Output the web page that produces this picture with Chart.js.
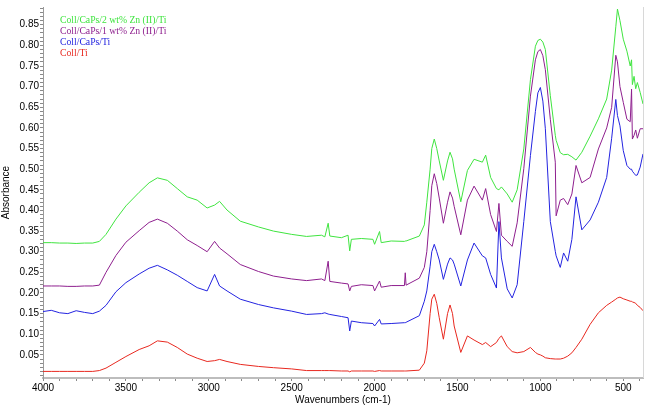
<!DOCTYPE html>
<html>
<head>
<meta charset="utf-8">
<script src="https://cdn.jsdelivr.net/npm/chart.js@4.4.0/dist/chart.umd.min.js"></script>
<style>
  html, body { margin: 0; padding: 0; background: #fff; }
  #wrap { width: 649px; height: 406px; position: relative; }
</style>
</head>
<body>
<div id="wrap"><canvas id="chart-ftir"></canvas></div>
<script>
// ==========================================
// FTIR スペクトル データ
// ==========================================

const wavenumbers = [
  4000, 3950, 3900, 3850, 3800, 3750, 3700, 3660, 3620, 3560,
  3500, 3420, 3360, 3310, 3250, 3190, 3130, 3070, 3010, 2965,
  2935, 2890, 2810, 2700, 2610, 2500, 2410, 2320, 2300, 2280,
  2270, 2200, 2160, 2150, 2140, 2080, 2010, 2000, 1970, 1960,
  1900, 1820, 1815, 1810, 1730, 1700, 1685, 1665, 1655, 1640,
  1625, 1610, 1585, 1560, 1545, 1530, 1520, 1480, 1440, 1400,
  1350, 1330, 1300, 1265, 1250, 1235, 1200, 1170, 1140, 1100,
  1060, 1030, 1015, 1000, 985, 970, 940, 910, 905, 880,
  860, 835, 810, 785, 750, 700, 650, 600, 570, 545,
  535, 520, 500, 478, 458, 450, 445, 435, 425, 415,
  398, 381
];

const coll2Zn = [
  0.322, 0.322, 0.321, 0.321, 0.320, 0.321, 0.321, 0.325, 0.342, 0.379,
  0.411, 0.444, 0.467, 0.479, 0.473, 0.453, 0.433, 0.425, 0.406, 0.413,
  0.422, 0.401, 0.374, 0.360, 0.350, 0.342, 0.337, 0.340, 0.336, 0.369,
  0.338, 0.334, 0.340, 0.302, 0.330, 0.332, 0.330, 0.318, 0.349, 0.322,
  0.326, 0.325, 0.326, 0.326, 0.338, 0.365, 0.420, 0.500, 0.550, 0.573,
  0.550, 0.520, 0.473, 0.520, 0.541, 0.525, 0.500, 0.421, 0.497, 0.524,
  0.517, 0.534, 0.480, 0.453, 0.450, 0.457, 0.440, 0.420, 0.450, 0.549,
  0.717, 0.798, 0.812, 0.815, 0.808, 0.790, 0.678, 0.582, 0.570, 0.540,
  0.535, 0.536, 0.530, 0.522, 0.541, 0.580, 0.622, 0.670, 0.740, 0.845,
  0.888, 0.860, 0.815, 0.786, 0.750, 0.765, 0.705, 0.725, 0.695, 0.710,
  0.686, 0.658
];

const coll1Zn = [
  0.217, 0.217, 0.217, 0.216, 0.216, 0.217, 0.217, 0.219, 0.250, 0.291,
  0.323, 0.351, 0.371, 0.379, 0.369, 0.350, 0.329, 0.315, 0.300, 0.325,
  0.309, 0.295, 0.269, 0.252, 0.241, 0.234, 0.230, 0.234, 0.230, 0.277,
  0.228, 0.224, 0.222, 0.205, 0.216, 0.220, 0.218, 0.205, 0.229, 0.214,
  0.218, 0.218, 0.249, 0.219, 0.236, 0.262, 0.300, 0.400, 0.460, 0.489,
  0.465, 0.430, 0.369, 0.420, 0.445, 0.430, 0.410, 0.341, 0.425, 0.459,
  0.425, 0.453, 0.390, 0.349, 0.417, 0.340, 0.325, 0.313, 0.370, 0.501,
  0.677, 0.765, 0.785, 0.790, 0.775, 0.741, 0.621, 0.517, 0.387, 0.425,
  0.429, 0.414, 0.440, 0.509, 0.467, 0.480, 0.549, 0.600, 0.650, 0.776,
  0.760, 0.700, 0.662, 0.621, 0.615, 0.694, 0.573, 0.582, 0.595, 0.575,
  0.598, 0.598
];

const collCaPs = [
  0.155, 0.158, 0.152, 0.150, 0.157, 0.153, 0.150, 0.156, 0.170, 0.203,
  0.225, 0.246, 0.260, 0.267, 0.256, 0.243, 0.228, 0.213, 0.205, 0.245,
  0.217, 0.205, 0.185, 0.172, 0.164, 0.156, 0.148, 0.150, 0.152, 0.149,
  0.148, 0.143, 0.140, 0.108, 0.132, 0.128, 0.126, 0.120, 0.136, 0.125,
  0.126, 0.128, 0.128, 0.129, 0.145, 0.180, 0.205, 0.265, 0.300, 0.318,
  0.300, 0.280, 0.233, 0.270, 0.285, 0.280, 0.270, 0.217, 0.280, 0.321,
  0.290, 0.285, 0.245, 0.212, 0.373, 0.285, 0.210, 0.188, 0.220, 0.373,
  0.533, 0.640, 0.685, 0.698, 0.665, 0.598, 0.373, 0.301, 0.290, 0.262,
  0.297, 0.277, 0.330, 0.433, 0.353, 0.377, 0.420, 0.480, 0.575, 0.669,
  0.630, 0.605, 0.545, 0.509, 0.500, 0.500, 0.495, 0.490, 0.485, 0.486,
  0.505, 0.537
];

const collTi = [
  0.010, 0.010, 0.010, 0.010, 0.010, 0.010, 0.010, 0.012, 0.018, 0.032,
  0.046, 0.063, 0.072, 0.084, 0.081, 0.068, 0.052, 0.042, 0.034, 0.036,
  0.039, 0.034, 0.027, 0.022, 0.019, 0.016, 0.012, 0.012, 0.012, 0.012,
  0.012, 0.011, 0.011, 0.009, 0.011, 0.011, 0.011, 0.010, 0.012, 0.011,
  0.011, 0.011, 0.011, 0.011, 0.013, 0.030, 0.060, 0.150, 0.185, 0.197,
  0.175, 0.140, 0.088, 0.150, 0.171, 0.150, 0.120, 0.056, 0.096, 0.086,
  0.075, 0.080, 0.070, 0.080, 0.090, 0.096, 0.070, 0.058, 0.055, 0.058,
  0.068, 0.056, 0.052, 0.050, 0.047, 0.043, 0.041, 0.040, 0.040, 0.040,
  0.042, 0.047, 0.055, 0.068, 0.088, 0.124, 0.152, 0.170, 0.178, 0.185,
  0.188, 0.190, 0.186, 0.183, 0.180, 0.180, 0.178, 0.177, 0.175, 0.170,
  0.165, 0.157
];

const seriesLabels = [
  'Coll/CaPs/2 wt% Zn (II)/Ti',
  'Coll/CaPs/1 wt% Zn (II)/Ti',
  'Coll/CaPs/Ti',
  'Coll/Ti'
];
const seriesColors = ['#3fe43f', '#8e1f8e', '#2323e0', '#e8281f'];
const seriesValues = [coll2Zn, coll1Zn, collCaPs, collTi];

// ==========================================
// 凡例（プロット内左上にテキストのみ）
// ==========================================

const textLegend = {
  id: 'textLegend',
  afterDraw(chart) {
    const { ctx, chartArea } = chart;
    ctx.save();
    ctx.font = '9.7px "Liberation Serif", serif';
    ctx.textBaseline = 'middle';
    seriesLabels.forEach((label, i) => {
      ctx.fillStyle = seriesColors[i];
      ctx.fillText(label, chartArea.left + 17, chartArea.top + 13.3 + i * 11.1);
    });
    // 右側の枠線
    ctx.strokeStyle = '#d8d8d8';
    ctx.lineWidth = 1;
    ctx.beginPath();
    ctx.moveTo(chartArea.right + 0.5, chartArea.top);
    ctx.lineTo(chartArea.right + 0.5, chartArea.bottom);
    ctx.stroke();
    ctx.restore();
  }
};

const ctx = document.getElementById('chart-ftir');

new Chart(ctx, {
  type: 'line',
  data: {
    datasets: seriesValues.map((vals, i) => ({
      label: seriesLabels[i],
      data: wavenumbers.map((w, j) => ({ x: w, y: vals[j] })),
      borderColor: seriesColors[i],
      borderWidth: 1,
      pointRadius: 0,
      tension: 0,
      fill: false
    }))
  },
  options: {
    responsive: true,
    maintainAspectRatio: false,
    animation: false,
    layout: { padding: { top: 3, right: 6, left: 0, bottom: 0 } },
    plugins: {
      legend: { display: false },
      tooltip: { enabled: false }
    },
    scales: {
      x: {
        type: 'linear',
        reverse: true,
        min: 381,
        max: 4000,
        afterFit: s => { s.height = 28; },
        border: { color: '#bdbdbd', width: 2 },
        grid: { drawOnChartArea: false, tickLength: 3, color: '#8a8a8a' },
        ticks: {
          stepSize: 100,
          includeBounds: false,
          autoSkip: false,
          maxRotation: 0,
          padding: 1,
          color: '#000',
          font: { family: '"Liberation Sans", Arial, sans-serif', size: 10 },
          callback: v => (v % 500 === 0 ? String(v) : '')
        },
        title: {
          display: true,
          text: 'Wavenumbers (cm-1)',
          color: '#000',
          padding: { top: 0, bottom: 0 },
          font: { family: '"Liberation Sans", Arial, sans-serif', size: 10 }
        }
      },
      y: {
        min: -0.006,
        max: 0.893,
        afterFit: s => { s.width = 43; },
        border: { color: '#9a9a9a', width: 1 },
        grid: { drawOnChartArea: false, tickLength: 3, color: '#8a8a8a' },
        ticks: {
          stepSize: 0.01,
          includeBounds: false,
          autoSkip: false,
          padding: 1,
          color: '#000',
          font: { family: '"Liberation Sans", Arial, sans-serif', size: 10 },
          callback: v => {
            const n = Math.round(v * 100);
            return (n > 0 && n % 5 === 0) ? (n / 100).toFixed(2) : '';
          }
        },
        title: {
          display: true,
          text: 'Absorbance',
          color: '#000',
          padding: { top: 0, bottom: 2 },
          font: { family: '"Liberation Sans", Arial, sans-serif', size: 10 }
        }
      }
    }
  },
  plugins: [textLegend]
});
</script>
</body>
</html>
